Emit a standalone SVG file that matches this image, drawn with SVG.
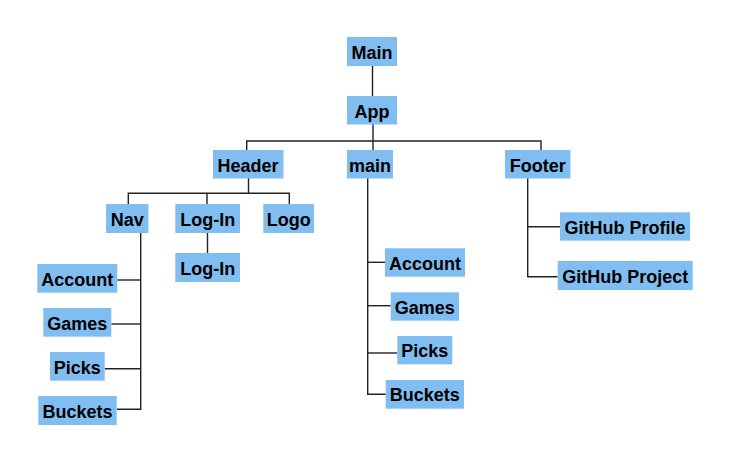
<svg xmlns="http://www.w3.org/2000/svg" width="729" height="462" viewBox="0 0 729 462">
<style>
.b{fill:#80BEF1}
.t{font-family:"Liberation Sans",Arial,sans-serif;font-weight:bold;font-size:18px;fill:#000;text-anchor:middle}
.c{stroke:#222;stroke-width:1.4;fill:none}
</style>
<rect width="729" height="462" fill="#fff"/>
<g id="connectors" class="c">
<path d="M372.5 66V96"/>
<path d="M373 124V150"/>
<path d="M246.7 150V141H541V150"/>
<path d="M248.5 178V193.3"/>
<path d="M128.3 204V193.3H289.3V204"/>
<path d="M207 193.3V204"/>
<path d="M207.5 233V253"/>
<path d="M140.7 233V409.3H117"/>
<path d="M117.3 280H140.7"/>
<path d="M111.3 324H140.7"/>
<path d="M104.7 368.7H140.7"/>
<path d="M367.7 178V394.3H385.7"/>
<path d="M367.7 262.3H385"/>
<path d="M367.7 305.7H390.7"/>
<path d="M367.7 353H397.3"/>
<path d="M527.7 178V276.7H557.7"/>
<path d="M527.7 226.7H560"/>
</g>
<g id="n-main-root"><rect class="b" x="347" y="37" width="50" height="29"/><text class="t" x="372" y="58.5">Main</text></g>
<g id="n-app"><rect class="b" x="347" y="96" width="50" height="28.5"/><text class="t" x="372" y="117.5">App</text></g>
<g id="n-header"><rect class="b" x="213" y="150" width="70.5" height="28.5"/><text class="t" x="248" y="171.5">Header</text></g>
<g id="n-main"><rect class="b" x="347" y="150" width="46" height="28.5"/><text class="t" x="370" y="171.5">main</text></g>
<g id="n-footer"><rect class="b" x="505" y="150" width="65.5" height="28.5"/><text class="t" x="537.7" y="171.5">Footer</text></g>
<g id="n-nav"><rect class="b" x="106" y="204" width="42.5" height="29"/><text class="t" x="127.3" y="225.5">Nav</text></g>
<g id="n-login"><rect class="b" x="175.3" y="204" width="64.7" height="29"/><text class="t" x="207.7" y="225.5">Log-In</text></g>
<g id="n-logo"><rect class="b" x="263.3" y="204" width="50.7" height="29"/><text class="t" x="288.7" y="225.5">Logo</text></g>
<g id="n-login2"><rect class="b" x="175.3" y="253" width="64.7" height="29"/><text class="t" x="207.7" y="274.5">Log-In</text></g>
<g id="n-nav-account"><rect class="b" x="37.3" y="264" width="80" height="28.7"/><text class="t" x="77.3" y="285.5">Account</text></g>
<g id="n-nav-games"><rect class="b" x="43.3" y="308" width="68" height="28.7"/><text class="t" x="77.3" y="329.5">Games</text></g>
<g id="n-nav-picks"><rect class="b" x="50" y="352" width="54.7" height="28.7"/><text class="t" x="77.3" y="373.5">Picks</text></g>
<g id="n-nav-buckets"><rect class="b" x="38.3" y="396" width="78.4" height="29"/><text class="t" x="77.5" y="417.5">Buckets</text></g>
<g id="n-main-account"><rect class="b" x="385" y="248.3" width="80" height="28.4"/><text class="t" x="425" y="269.5">Account</text></g>
<g id="n-main-games"><rect class="b" x="390.7" y="292.3" width="68.3" height="28.4"/><text class="t" x="424.8" y="313.5">Games</text></g>
<g id="n-main-picks"><rect class="b" x="397.3" y="336" width="55" height="28.3"/><text class="t" x="424.8" y="357.2">Picks</text></g>
<g id="n-main-buckets"><rect class="b" x="385.7" y="380" width="78.3" height="28.7"/><text class="t" x="424.8" y="401.4">Buckets</text></g>
<g id="n-gh-profile"><rect class="b" x="560" y="212.3" width="130" height="28.4"/><text class="t" x="625" y="233.5">GitHub Profile</text></g>
<g id="n-gh-project"><rect class="b" x="557.7" y="261" width="135" height="29"/><text class="t" x="625.2" y="282.5">GitHub Project</text></g>
</svg>
